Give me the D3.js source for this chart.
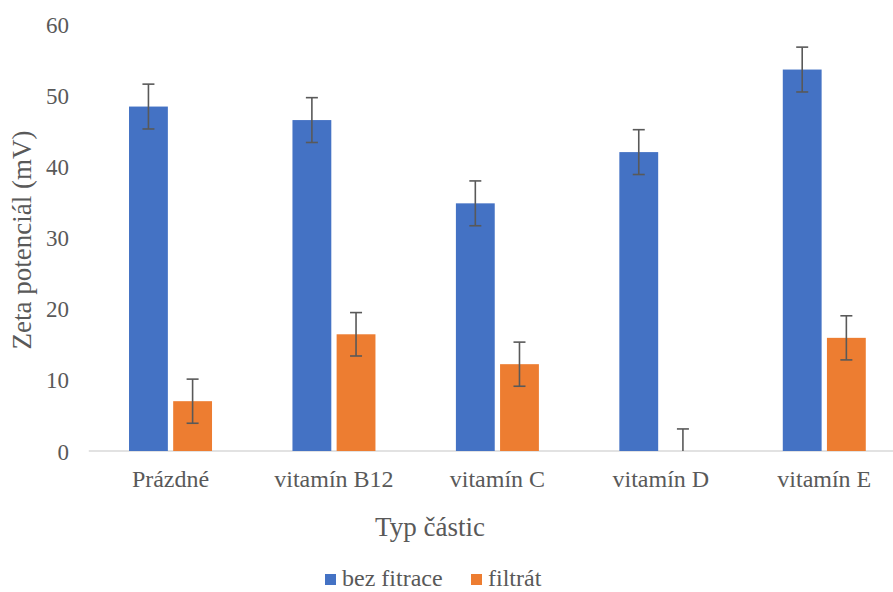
<!DOCTYPE html>
<html><head><meta charset="utf-8">
<script src="https://cdn.jsdelivr.net/npm/d3@7"></script>
<style>body{margin:0;background:#fff}svg{display:block}
svg text{font-family:"Liberation Serif","Times New Roman",serif !important;fill:#595959}</style>
</head><body>
<svg id="c" width="893" height="592"></svg>
<script>
const categories = ["Prázdné","vitamín B12","vitamín C","vitamín D","vitamín E"];
const seriesNames = ["bez fitrace","filtrát"];
const bezFitrace = [48.4, 46.5, 34.8, 42.0, 53.6];
const bezFitraceErr = [3.15, 3.15, 3.15, 3.15, 3.15];
const filtrat = [7.0, 16.4, 12.2, 0.0, 15.9];
const filtratErr = [3.1, 3.05, 3.1, 3.1, 3.1];
const yTicks = [0,10,20,30,40,50,60];
const colors = ["#4472C4","#ED7D31"];

const svg = d3.select("#c");
const y = d3.scaleLinear().domain([0,60]).range([451,24]);
const x = d3.scaleBand().domain(categories).range([88.8,906]).paddingInner(0).paddingOuter(0);
const groupW = 83;
const x1 = d3.scaleBand().domain(seriesNames).range([0,groupW]).paddingInner(10/83);

const series = [
  {name: seriesNames[0], vals: bezFitrace, err: bezFitraceErr, color: colors[0]},
  {name: seriesNames[1], vals: filtrat, err: filtratErr, color: colors[1]}
];

svg.append("line").attr("x1",x.range()[0]).attr("x2",x.range()[1])
  .attr("y1",y(0)).attr("y2",y(0)).attr("stroke","#D9D9D9").attr("stroke-width",1.5);

const yAxis = d3.axisLeft(y).tickValues(yTicks).tickSize(0).tickPadding(0);
const ga = svg.append("g").attr("transform","translate(69,0)").call(yAxis);
ga.select(".domain").remove();
ga.selectAll("text").attr("font-size",23).attr("dy","0.35em");

const gx = svg.append("g").attr("transform",`translate(0,${y(0)})`)
  .call(d3.axisBottom(x).tickSize(0).tickPadding(0));
gx.select(".domain").remove();
gx.selectAll("text").attr("font-size",24).attr("y",36).attr("dy",0);

series.forEach(s=>{
  const g = svg.append("g");
  categories.forEach((c,i)=>{
    const bx = x(c) + (x.bandwidth()-groupW)/2 + x1(s.name);
    g.append("rect").attr("x",bx).attr("width",x1.bandwidth())
      .attr("y",y(s.vals[i])).attr("height",y(0)-y(s.vals[i])).attr("fill",s.color);
  });
});
series.forEach(s=>{
  const g = svg.append("g").attr("stroke","#595959").attr("stroke-width",1.6);
  categories.forEach((c,i)=>{
    const cx = x(c) + (x.bandwidth()-groupW)/2 + x1(s.name) + x1.bandwidth()/2;
    const lo = Math.max(0, s.vals[i]-s.err[i]), hi = s.vals[i]+s.err[i];
    g.append("line").attr("x1",cx).attr("x2",cx).attr("y1",y(lo)).attr("y2",y(hi));
    g.append("line").attr("x1",cx-6).attr("x2",cx+6).attr("y1",y(hi)).attr("y2",y(hi));
    if (s.vals[i]-s.err[i] > 0)
      g.append("line").attr("x1",cx-6).attr("x2",cx+6).attr("y1",y(lo)).attr("y2",y(lo));
  });
});

svg.append("text").attr("x",430).attr("y",527).attr("dy","0.35em").attr("text-anchor","middle")
  .attr("font-size",27).text("Typ částic");
svg.append("text").attr("transform","translate(22,240) rotate(-90)").attr("dy","0.35em").attr("text-anchor","middle")
  .attr("font-size",27).text("Zeta potenciál (mV)");

const legX = [325, 471];
series.forEach((s,i)=>{
  svg.append("rect").attr("x",legX[i]).attr("y",574).attr("width",11).attr("height",11).attr("fill",s.color);
  svg.append("text").attr("x",legX[i]+17).attr("y",578).attr("dy","0.35em")
    .attr("font-size",24).text(s.name);
});
</script>
</body></html>
